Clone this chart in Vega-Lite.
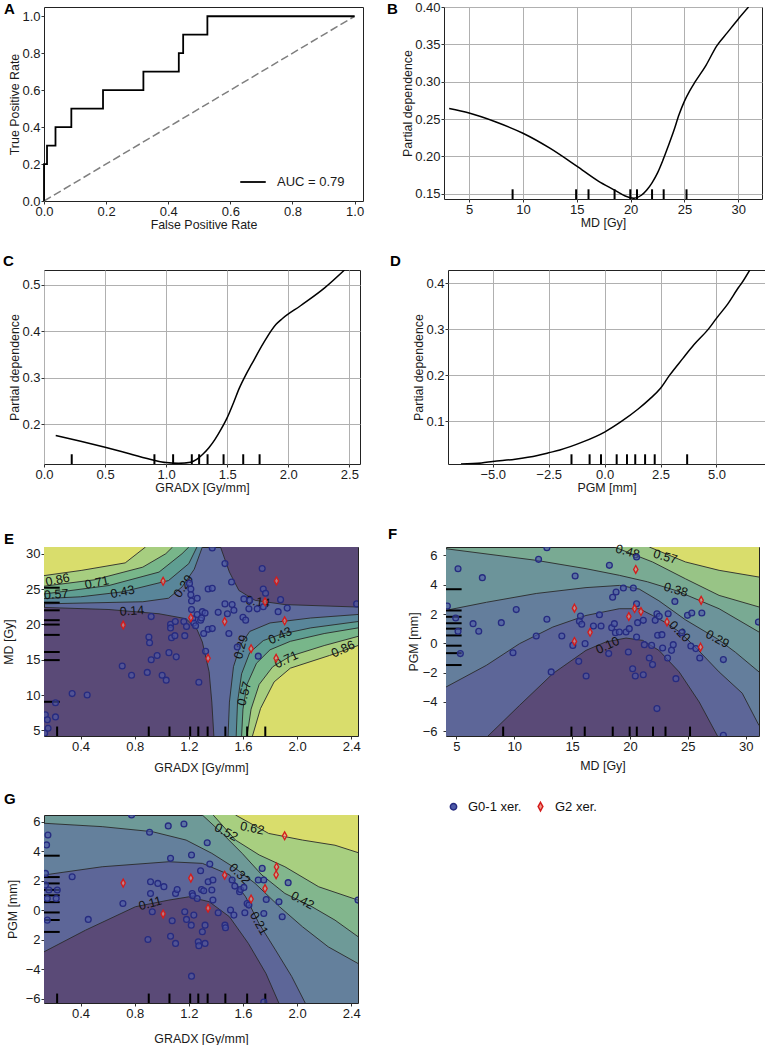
{
"$schema":"https://vega.github.io/schema/vega-lite/v6.json",
"padding":{"left":2,"top":0,"right":0,"bottom":0},
"background":"white",
"config":{
 "font":"Liberation Sans",
 "view":{"stroke":"#222222","strokeWidth":1},
 "axis":{"domain":false,"grid":false,"gridColor":"#b0b0b0","gridWidth":1,"tickColor":"#333333","tickSize":3,"labelFont":"Liberation Sans","labelFontSize":13,"labelColor":"#1a1a1a","labelPadding":1,"labelFlush":false,"labelOverlap":false,"titleFont":"Liberation Sans","titleFontSize":12.4,"titleFontWeight":"normal","titleColor":"#1a1a1a","titlePadding":0},
 "title":{"anchor":"start","frame":"group","fontSize":15,"fontWeight":"bold","font":"Liberation Sans","color":"#000000","baseline":"alphabetic","offset":1},
 "legend":{"labelFont":"Liberation Sans","titleFont":"Liberation Sans"}
},
"datasets":{
 "roc":[{"x":0,"y":0},{"x":0,"y":0.2},{"x":0.0097,"y":0.3},{"x":0.037,"y":0.4},{"x":0.088,"y":0.5},{"x":0.19,"y":0.6},{"x":0.32,"y":0.7},{"x":0.434,"y":0.8},{"x":0.448,"y":0.9},{"x":0.526,"y":1.0},{"x":1.0,"y":1.0}],
 "diag":[{"x":0,"y":0},{"x":1,"y":1}],
 "pdB":[{"x":3.15,"y":0.264},{"x":5,"y":0.258},{"x":7.5,"y":0.246},{"x":10,"y":0.231},{"x":12.5,"y":0.211},{"x":15,"y":0.187},{"x":17,"y":0.167},{"x":18.5,"y":0.155},{"x":19.5,"y":0.147},{"x":20.3,"y":0.144},{"x":21,"y":0.148},{"x":21.5,"y":0.155},{"x":22,"y":0.165},{"x":22.5,"y":0.178},{"x":23,"y":0.195},{"x":23.5,"y":0.214},{"x":24,"y":0.234},{"x":24.5,"y":0.256},{"x":25,"y":0.274},{"x":25.5,"y":0.288},{"x":26,"y":0.3},{"x":27,"y":0.322},{"x":28,"y":0.348},{"x":29,"y":0.366},{"x":30,"y":0.384},{"x":30.95,"y":0.4}],
 "pdC":[{"x":0.096,"y":0.1755},{"x":0.3,"y":0.163},{"x":0.5,"y":0.15},{"x":0.7,"y":0.136},{"x":0.9,"y":0.122},{"x":1.0,"y":0.117},{"x":1.1,"y":0.1155},{"x":1.2,"y":0.118},{"x":1.25,"y":0.124},{"x":1.3,"y":0.135},{"x":1.35,"y":0.149},{"x":1.4,"y":0.167},{"x":1.45,"y":0.189},{"x":1.5,"y":0.214},{"x":1.55,"y":0.245},{"x":1.6,"y":0.278},{"x":1.65,"y":0.305},{"x":1.7,"y":0.329},{"x":1.8,"y":0.376},{"x":1.9,"y":0.415},{"x":1.95,"y":0.427},{"x":2.1,"y":0.455},{"x":2.3,"y":0.494},{"x":2.46,"y":0.532}],
 "pdD":[{"x":-6.42,"y":0.0078},{"x":-5.5,"y":0.01},{"x":-5,"y":0.013},{"x":-4,"y":0.018},{"x":-3,"y":0.026},{"x":-2.5,"y":0.032},{"x":-2,"y":0.038},{"x":-1,"y":0.055},{"x":0,"y":0.077},{"x":0.75,"y":0.1},{"x":1.5,"y":0.127},{"x":2,"y":0.148},{"x":2.5,"y":0.172},{"x":2.9,"y":0.2},{"x":3.5,"y":0.237},{"x":4,"y":0.267},{"x":4.63,"y":0.3},{"x":5,"y":0.324},{"x":5.5,"y":0.355},{"x":6,"y":0.392},{"x":6.12,"y":0.4},{"x":6.49,"y":0.429}],
 "gxx":[{"x":0.227},{"x":0.904},{"x":1.057},{"x":1.21},{"x":1.27},{"x":1.339},{"x":1.47},{"x":1.631},{"x":1.765}],
 "mdx":[{"x":9.04},{"x":14.94},{"x":16.09},{"x":18.51},{"x":19.97},{"x":20.59},{"x":21.99},{"x":23.07},{"x":25.19}],
 "mdy":[{"y":9.04},{"y":14.94},{"y":16.09},{"y":18.51},{"y":19.97},{"y":20.59},{"y":21.99},{"y":23.07},{"y":25.19}],
 "pgmx":[{"x":-1.48},{"x":-0.67},{"x":-0.16},{"x":0.54},{"x":1.0},{"x":1.37},{"x":1.81},{"x":2.24},{"x":3.69}],
 "pgmy":[{"y":-1.48},{"y":-0.67},{"y":-0.16},{"y":0.54},{"y":1.0},{"y":1.37},{"y":1.81},{"y":2.24},{"y":3.69}],
 "cE":[
  {"id":"TL29","x":0.13,"y":22.9},{"id":"TL29","x":0.86,"y":23.2},{"id":"TL29","x":1.05,"y":23.7},{"id":"TL29","x":1.15,"y":25.3},{"id":"TL29","x":1.24,"y":27.8},{"id":"TL29","x":1.3,"y":30.95},
  {"id":"TL43","x":0.13,"y":23.65},{"id":"TL43","x":0.4,"y":23.9},{"id":"TL43","x":0.71,"y":24.6},{"id":"TL43","x":1.05,"y":26.2},{"id":"TL43","x":1.2,"y":28.6},{"id":"TL43","x":1.26,"y":30.95},
  {"id":"TL57","x":0.13,"y":24.3},{"id":"TL57","x":0.61,"y":25.5},{"id":"TL57","x":0.98,"y":27.4},{"id":"TL57","x":1.15,"y":30.0},{"id":"TL57","x":1.2,"y":30.95},
  {"id":"TL71","x":0.13,"y":25.4},{"id":"TL71","x":0.5,"y":26.3},{"id":"TL71","x":0.86,"y":28.1},{"id":"TL71","x":1.03,"y":30.0},{"id":"TL71","x":1.08,"y":30.95},
  {"id":"TL86","x":0.13,"y":26.9},{"id":"TL86","x":0.41,"y":27.65},{"id":"TL86","x":0.73,"y":28.7},{"id":"TL86","x":0.88,"y":30.95},
  {"id":"BL14","x":0.13,"y":22.4},{"id":"BL14","x":0.61,"y":22.1},{"id":"BL14","x":0.98,"y":21.5},{"id":"BL14","x":1.18,"y":20.8},{"id":"BL14","x":1.26,"y":19.3},{"id":"BL14","x":1.3,"y":17.5},{"id":"BL14","x":1.35,"y":13.3},{"id":"BL14","x":1.37,"y":9},{"id":"BL14","x":1.385,"y":4.2},
  {"id":"TR14","x":1.434,"y":30.95},{"id":"TR14","x":1.5,"y":27.4},{"id":"TR14","x":1.57,"y":24.8},{"id":"TR14","x":1.69,"y":23.4},{"id":"TR14","x":1.91,"y":22.8},{"id":"TR14","x":2.45,"y":22.45},
  {"id":"BR29","x":1.49,"y":4.2},{"id":"BR29","x":1.5,"y":9.0},{"id":"BR29","x":1.53,"y":14.0},{"id":"BR29","x":1.58,"y":17.0},{"id":"BR29","x":1.65,"y":19.0},{"id":"BR29","x":1.8,"y":20.2},{"id":"BR29","x":2.1,"y":20.9},{"id":"BR29","x":2.45,"y":21.4},
  {"id":"BR43","x":1.55,"y":4.2},{"id":"BR43","x":1.56,"y":9.0},{"id":"BR43","x":1.59,"y":13.0},{"id":"BR43","x":1.65,"y":16.0},{"id":"BR43","x":1.75,"y":17.7},{"id":"BR43","x":1.88,"y":18.6},{"id":"BR43","x":2.1,"y":19.5},{"id":"BR43","x":2.45,"y":20.4},
  {"id":"BR57","x":1.59,"y":4.2},{"id":"BR57","x":1.6,"y":8.0},{"id":"BR57","x":1.63,"y":11.5},{"id":"BR57","x":1.7,"y":14.5},{"id":"BR57","x":1.8,"y":16.4},{"id":"BR57","x":1.95,"y":17.6},{"id":"BR57","x":2.2,"y":18.7},{"id":"BR57","x":2.45,"y":19.5},
  {"id":"BR71","x":1.63,"y":4.2},{"id":"BR71","x":1.66,"y":8.0},{"id":"BR71","x":1.72,"y":11.5},{"id":"BR71","x":1.82,"y":14.0},{"id":"BR71","x":1.95,"y":15.5},{"id":"BR71","x":2.2,"y":17.0},{"id":"BR71","x":2.45,"y":18.3},
  {"id":"BR86","x":1.67,"y":4.2},{"id":"BR86","x":1.73,"y":8.1},{"id":"BR86","x":1.83,"y":11.85},{"id":"BR86","x":1.95,"y":13.8},{"id":"BR86","x":2.24,"y":15.6},{"id":"BR86","x":2.45,"y":17.0}
 ],
 "lE":[{"id":"TL86","t":"0.86","x":0.23,"y":26.3},{"id":"TL71","t":"0.71","x":0.52,"y":25.9},{"id":"TL57","t":"0.57","x":0.22,"y":24.25},{"id":"TL43","t":"0.43","x":0.71,"y":24.6},{"id":"BL14","t":"0.14","x":0.78,"y":21.9},{"id":"TL29","t":"0.29","x":1.16,"y":25.4},{"id":"TR14","t":"0.14","x":1.71,"y":23.2},{"id":"BR29","t":"0.29","x":1.585,"y":16.8},{"id":"BR43","t":"0.43","x":1.875,"y":18.4},{"id":"BR57","t":"0.57","x":1.61,"y":10.2},{"id":"BR71","t":"0.71","x":1.92,"y":15.0},{"id":"BR86","t":"0.86","x":2.34,"y":16.5}],
 "cF":[
  {"id":"F10","x":7.73,"y":-6.32},{"id":"F10","x":10.46,"y":-4.23},{"id":"F10","x":13.33,"y":-2.07},{"id":"F10","x":16.2,"y":-0.48},{"id":"F10","x":17.9,"y":0.09},{"id":"F10","x":19.66,"y":0.36},{"id":"F10","x":21.1,"y":0.2},{"id":"F10","x":22.5,"y":-0.48},{"id":"F10","x":24.25,"y":-1.95},{"id":"F10","x":25.98,"y":-4.0},{"id":"F10","x":27.56,"y":-6.32},
  {"id":"F20","x":4.1,"y":-2.98},{"id":"F20","x":7.59,"y":-1.5},{"id":"F20","x":10.46,"y":-0.02},{"id":"F20","x":13.33,"y":1.11},{"id":"F20","x":16.2,"y":1.9},{"id":"F20","x":19.08,"y":2.36},{"id":"F20","x":20.8,"y":2.36},{"id":"F20","x":21.95,"y":1.9},{"id":"F20","x":23.0,"y":1.45},{"id":"F20","x":24.3,"y":0.77},{"id":"F20","x":25.7,"y":-0.3},{"id":"F20","x":27.7,"y":-1.95},{"id":"F20","x":29.7,"y":-3.4},{"id":"F20","x":31.15,"y":-5.6},
  {"id":"F29","x":4.1,"y":2.25},{"id":"F29","x":7.6,"y":2.8},{"id":"F29","x":11.9,"y":3.4},{"id":"F29","x":16.2,"y":3.8},{"id":"F29","x":19.1,"y":3.95},{"id":"F29","x":20.8,"y":3.7},{"id":"F29","x":22.5,"y":2.9},{"id":"F29","x":24.8,"y":1.6},{"id":"F29","x":27.56,"y":0.3},{"id":"F29","x":29.1,"y":-0.6},{"id":"F29","x":31.15,"y":-1.95},
  {"id":"F38","x":4.1,"y":6.45},{"id":"F38","x":11.9,"y":5.66},{"id":"F38","x":16.2,"y":5.09},{"id":"F38","x":19.08,"y":4.64},{"id":"F38","x":21.5,"y":4.2},{"id":"F38","x":23.97,"y":3.6},{"id":"F38","x":27.7,"y":2.36},{"id":"F38","x":31.15,"y":0.77},
  {"id":"F48","x":18.65,"y":6.57},{"id":"F48","x":21.95,"y":5.55},{"id":"F48","x":24.8,"y":4.4},{"id":"F48","x":27.7,"y":3.27},{"id":"F48","x":31.15,"y":2.48},
  {"id":"F57","x":21.67,"y":6.57},{"id":"F57","x":24.8,"y":5.55},{"id":"F57","x":27.7,"y":4.98},{"id":"F57","x":31.15,"y":4.52}
 ],
 "lF":[{"id":"F48","t":"0.48","x":19.8,"y":6.25},{"id":"F57","t":"0.57","x":23.05,"y":5.9},{"id":"F38","t":"0.38","x":23.97,"y":3.65},{"id":"F20","t":"0.20","x":24.3,"y":0.8},{"id":"F29","t":"0.29","x":27.56,"y":0.3},{"id":"F10","t":"0.10","x":18.07,"y":-0.14}],
 "cG":[
  {"id":"G11","x":0.13,"y":-2.83},{"id":"G11","x":0.437,"y":-1.36},{"id":"G11","x":0.806,"y":0.23},{"id":"G11","x":1.053,"y":0.68},{"id":"G11","x":1.2,"y":0.9},{"id":"G11","x":1.35,"y":0.57},{"id":"G11","x":1.5,"y":-0.45},{"id":"G11","x":1.64,"y":-2.26},{"id":"G11","x":1.77,"y":-4.3},{"id":"G11","x":1.865,"y":-6.3},
  {"id":"G21","x":0.13,"y":2.38},{"id":"G21","x":0.56,"y":2.94},{"id":"G21","x":1.053,"y":3.28},{"id":"G21","x":1.3,"y":3.17},{"id":"G21","x":1.5,"y":2.4},{"id":"G21","x":1.62,"y":0.9},{"id":"G21","x":1.718,"y":-0.9},{"id":"G21","x":1.84,"y":-2.7},{"id":"G21","x":1.96,"y":-4.5},{"id":"G21","x":2.06,"y":-6.3},
  {"id":"G32","x":0.13,"y":5.89},{"id":"G32","x":0.56,"y":5.66},{"id":"G32","x":0.93,"y":5.32},{"id":"G32","x":1.18,"y":4.75},{"id":"G32","x":1.37,"y":3.85},{"id":"G32","x":1.545,"y":2.83},{"id":"G32","x":1.69,"y":1.81},{"id":"G32","x":1.87,"y":0.23},{"id":"G32","x":2.04,"y":-1.13},{"id":"G32","x":2.23,"y":-2.49},{"id":"G32","x":2.45,"y":-3.62},
  {"id":"G42","x":1.3,"y":6.45},{"id":"G42","x":1.447,"y":5.2},{"id":"G42","x":1.594,"y":3.85},{"id":"G42","x":1.74,"y":2.38},{"id":"G42","x":1.91,"y":1.13},{"id":"G42","x":2.11,"y":0.23},{"id":"G42","x":2.28,"y":-0.68},{"id":"G42","x":2.45,"y":-1.8},
  {"id":"G52","x":1.38,"y":6.45},{"id":"G52","x":1.545,"y":4.75},{"id":"G52","x":1.72,"y":3.74},{"id":"G52","x":1.91,"y":2.94},{"id":"G52","x":2.16,"y":1.58},{"id":"G52","x":2.45,"y":0.68},
  {"id":"G62","x":1.545,"y":6.45},{"id":"G62","x":1.79,"y":5.2},{"id":"G62","x":2.04,"y":4.75},{"id":"G62","x":2.28,"y":4.4},{"id":"G62","x":2.45,"y":3.9}
 ],
 "lG":[{"id":"G62","t":"0.62","x":1.668,"y":5.55},{"id":"G52","t":"0.52","x":1.476,"y":5.28},{"id":"G32","t":"0.32","x":1.575,"y":2.45},{"id":"G42","t":"0.42","x":2.04,"y":0.65},{"id":"G21","t":"0.21","x":1.718,"y":-0.9},{"id":"G11","t":"0.11","x":0.915,"y":0.45}],
 "pE":[
  {"x":0.14,"y":7.2,"g":"G0-1 xer."},{"x":0.155,"y":6.5,"g":"G0-1 xer."},{"x":0.16,"y":5.3,"g":"G0-1 xer."},{"x":0.135,"y":4.6,"g":"G0-1 xer."},{"x":0.215,"y":8.9,"g":"G0-1 xer."},{"x":0.215,"y":6.9,"g":"G0-1 xer."},{"x":0.338,"y":10.2,"g":"G0-1 xer."},{"x":0.449,"y":10.0,"g":"G0-1 xer."},{"x":0.708,"y":14.1,"g":"G0-1 xer."},{"x":0.777,"y":12.8,"g":"G0-1 xer."},{"x":0.893,"y":13.2,"g":"G0-1 xer."},{"x":0.905,"y":18.2,"g":"G0-1 xer."},{"x":0.91,"y":17.4,"g":"G0-1 xer."},{"x":0.922,"y":15.0,"g":"G0-1 xer."},{"x":0.922,"y":21.1,"g":"G0-1 xer."},{"x":0.966,"y":15.6,"g":"G0-1 xer."},{"x":1.003,"y":12.8,"g":"G0-1 xer."},{"x":1.033,"y":12.1,"g":"G0-1 xer."},{"x":1.053,"y":16.0,"g":"G0-1 xer."},{"x":1.065,"y":20.0,"g":"G0-1 xer."},{"x":1.065,"y":19.5,"g":"G0-1 xer."},{"x":1.072,"y":18.1,"g":"G0-1 xer."},{"x":1.097,"y":18.4,"g":"G0-1 xer."},{"x":1.1,"y":20.4,"g":"G0-1 xer."},{"x":1.107,"y":15.4,"g":"G0-1 xer."},{"x":1.17,"y":18.4,"g":"G0-1 xer."},{"x":1.163,"y":20.4,"g":"G0-1 xer."},{"x":1.183,"y":19.7,"g":"G0-1 xer."},{"x":1.205,"y":25.8,"g":"G0-1 xer."},{"x":1.215,"y":25.0,"g":"G0-1 xer."},{"x":1.215,"y":24.2,"g":"G0-1 xer."},{"x":1.22,"y":23.3,"g":"G0-1 xer."},{"x":1.22,"y":22.1,"g":"G0-1 xer."},{"x":1.23,"y":20.8,"g":"G0-1 xer."},{"x":1.237,"y":20.2,"g":"G0-1 xer."},{"x":1.25,"y":19.8,"g":"G0-1 xer."},{"x":1.262,"y":21.4,"g":"G0-1 xer."},{"x":1.262,"y":23.7,"g":"G0-1 xer."},{"x":1.274,"y":11.8,"g":"G0-1 xer."},{"x":1.287,"y":20.6,"g":"G0-1 xer."},{"x":1.294,"y":20.9,"g":"G0-1 xer."},{"x":1.3,"y":21.8,"g":"G0-1 xer."},{"x":1.31,"y":18.7,"g":"G0-1 xer."},{"x":1.32,"y":21.6,"g":"G0-1 xer."},{"x":1.324,"y":16.2,"g":"G0-1 xer."},{"x":1.343,"y":25.0,"g":"G0-1 xer."},{"x":1.343,"y":19.3,"g":"G0-1 xer."},{"x":1.373,"y":25.1,"g":"G0-1 xer."},{"x":1.373,"y":19.4,"g":"G0-1 xer."},{"x":1.373,"y":30.8,"g":"G0-1 xer."},{"x":1.417,"y":21.7,"g":"G0-1 xer."},{"x":1.467,"y":28.6,"g":"G0-1 xer."},{"x":1.467,"y":22.9,"g":"G0-1 xer."},{"x":1.485,"y":21.5,"g":"G0-1 xer."},{"x":1.496,"y":18.7,"g":"G0-1 xer."},{"x":1.516,"y":26.0,"g":"G0-1 xer."},{"x":1.52,"y":22.8,"g":"G0-1 xer."},{"x":1.533,"y":22.0,"g":"G0-1 xer."},{"x":1.558,"y":16.8,"g":"G0-1 xer."},{"x":1.6,"y":21.0,"g":"G0-1 xer."},{"x":1.607,"y":23.6,"g":"G0-1 xer."},{"x":1.62,"y":20.6,"g":"G0-1 xer."},{"x":1.644,"y":22.2,"g":"G0-1 xer."},{"x":1.65,"y":23.4,"g":"G0-1 xer."},{"x":1.705,"y":22.2,"g":"G0-1 xer."},{"x":1.713,"y":15.5,"g":"G0-1 xer."},{"x":1.742,"y":27.9,"g":"G0-1 xer."},{"x":1.75,"y":25.0,"g":"G0-1 xer."},{"x":1.767,"y":24.4,"g":"G0-1 xer."},{"x":1.75,"y":22.5,"g":"G0-1 xer."},{"x":1.86,"y":21.8,"g":"G0-1 xer."},{"x":1.878,"y":23.5,"g":"G0-1 xer."},{"x":1.927,"y":22.3,"g":"G0-1 xer."},{"x":2.44,"y":22.9,"g":"G0-1 xer."},
  {"x":1.01,"y":26.1,"g":"G2 xer."},{"x":0.715,"y":19.9,"g":"G2 xer."},{"x":1.215,"y":20.95,"g":"G2 xer."},{"x":1.465,"y":20.4,"g":"G2 xer."},{"x":1.342,"y":15.2,"g":"G2 xer."},{"x":1.66,"y":16.55,"g":"G2 xer."},{"x":1.763,"y":23.2,"g":"G2 xer."},{"x":1.848,"y":26.15,"g":"G2 xer."},{"x":1.908,"y":20.5,"g":"G2 xer."},{"x":1.845,"y":15.2,"g":"G2 xer."}
 ],
 "pF":[
  {"x":4.22,"y":2.55,"g":"G0-1 xer."},{"x":5.14,"y":5.09,"g":"G0-1 xer."},{"x":4.94,"y":1.73,"g":"G0-1 xer."},{"x":5.14,"y":0.82,"g":"G0-1 xer."},{"x":5.34,"y":-0.7,"g":"G0-1 xer."},{"x":6.44,"y":1.34,"g":"G0-1 xer."},{"x":6.93,"y":0.82,"g":"G0-1 xer."},{"x":7.24,"y":4.48,"g":"G0-1 xer."},{"x":8.88,"y":1.41,"g":"G0-1 xer."},{"x":9.89,"y":-0.64,"g":"G0-1 xer."},{"x":10.17,"y":2.3,"g":"G0-1 xer."},{"x":11.9,"y":0.5,"g":"G0-1 xer."},{"x":12.1,"y":5.73,"g":"G0-1 xer."},{"x":12.82,"y":1.64,"g":"G0-1 xer."},{"x":12.82,"y":6.52,"g":"G0-1 xer."},{"x":13.19,"y":-1.95,"g":"G0-1 xer."},{"x":14.11,"y":0.5,"g":"G0-1 xer."},{"x":15.06,"y":-0.14,"g":"G0-1 xer."},{"x":15.26,"y":4.59,"g":"G0-1 xer."},{"x":15.57,"y":-1.23,"g":"G0-1 xer."},{"x":15.63,"y":1.5,"g":"G0-1 xer."},{"x":15.72,"y":1.86,"g":"G0-1 xer."},{"x":15.83,"y":1.3,"g":"G0-1 xer."},{"x":16.21,"y":-2.23,"g":"G0-1 xer."},{"x":16.12,"y":-0.02,"g":"G0-1 xer."},{"x":16.84,"y":1.18,"g":"G0-1 xer."},{"x":17.36,"y":1.95,"g":"G0-1 xer."},{"x":17.5,"y":1.18,"g":"G0-1 xer."},{"x":18.16,"y":-0.7,"g":"G0-1 xer."},{"x":18.22,"y":5.32,"g":"G0-1 xer."},{"x":18.42,"y":1.07,"g":"G0-1 xer."},{"x":18.65,"y":1.34,"g":"G0-1 xer."},{"x":18.5,"y":3.14,"g":"G0-1 xer."},{"x":18.8,"y":3.5,"g":"G0-1 xer."},{"x":18.74,"y":0.73,"g":"G0-1 xer."},{"x":19.08,"y":0.77,"g":"G0-1 xer."},{"x":19.43,"y":3.77,"g":"G0-1 xer."},{"x":19.66,"y":0.77,"g":"G0-1 xer."},{"x":19.86,"y":-0.59,"g":"G0-1 xer."},{"x":19.94,"y":1.0,"g":"G0-1 xer."},{"x":20.23,"y":-1.73,"g":"G0-1 xer."},{"x":20.29,"y":3.77,"g":"G0-1 xer."},{"x":20.46,"y":-2.23,"g":"G0-1 xer."},{"x":20.57,"y":2.7,"g":"G0-1 xer."},{"x":20.57,"y":5.89,"g":"G0-1 xer."},{"x":20.66,"y":1.41,"g":"G0-1 xer."},{"x":20.57,"y":0.43,"g":"G0-1 xer."},{"x":21.15,"y":1.57,"g":"G0-1 xer."},{"x":21.24,"y":-0.09,"g":"G0-1 xer."},{"x":21.15,"y":-2.14,"g":"G0-1 xer."},{"x":21.67,"y":-1.0,"g":"G0-1 xer."},{"x":21.87,"y":-0.14,"g":"G0-1 xer."},{"x":21.95,"y":-1.45,"g":"G0-1 xer."},{"x":22.18,"y":1.57,"g":"G0-1 xer."},{"x":22.33,"y":2.02,"g":"G0-1 xer."},{"x":22.33,"y":-4.45,"g":"G0-1 xer."},{"x":22.39,"y":0.55,"g":"G0-1 xer."},{"x":22.53,"y":1.84,"g":"G0-1 xer."},{"x":22.76,"y":0.59,"g":"G0-1 xer."},{"x":22.82,"y":-0.32,"g":"G0-1 xer."},{"x":23.25,"y":-1.0,"g":"G0-1 xer."},{"x":23.3,"y":2.02,"g":"G0-1 xer."},{"x":23.59,"y":-0.48,"g":"G0-1 xer."},{"x":23.74,"y":-0.09,"g":"G0-1 xer."},{"x":23.88,"y":2.86,"g":"G0-1 xer."},{"x":23.97,"y":-2.41,"g":"G0-1 xer."},{"x":24.48,"y":0.73,"g":"G0-1 xer."},{"x":24.97,"y":1.91,"g":"G0-1 xer."},{"x":25.26,"y":-0.18,"g":"G0-1 xer."},{"x":25.34,"y":2.07,"g":"G0-1 xer."},{"x":25.69,"y":-0.36,"g":"G0-1 xer."},{"x":26.03,"y":-1.0,"g":"G0-1 xer."},{"x":26.21,"y":2.07,"g":"G0-1 xer."},{"x":28.07,"y":-1.11,"g":"G0-1 xer."},{"x":28.07,"y":-6.27,"g":"G0-1 xer."},{"x":31.1,"y":1.45,"g":"G0-1 xer."},
  {"x":26.1,"y":-0.26,"g":"G2 xer."},{"x":19.9,"y":1.83,"g":"G2 xer."},{"x":20.95,"y":2.17,"g":"G2 xer."},{"x":20.4,"y":2.37,"g":"G2 xer."},{"x":15.2,"y":0.13,"g":"G2 xer."},{"x":16.55,"y":0.75,"g":"G2 xer."},{"x":23.2,"y":1.46,"g":"G2 xer."},{"x":26.15,"y":2.93,"g":"G2 xer."},{"x":20.5,"y":5.04,"g":"G2 xer."},{"x":15.2,"y":2.4,"g":"G2 xer."}
 ],
 "pG":[
  {"x":0.141,"y":2.49,"g":"G0-1 xer."},{"x":0.141,"y":1.7,"g":"G0-1 xer."},{"x":0.154,"y":0.79,"g":"G0-1 xer."},{"x":0.166,"y":1.36,"g":"G0-1 xer."},{"x":0.159,"y":5.09,"g":"G0-1 xer."},{"x":0.149,"y":4.42,"g":"G0-1 xer."},{"x":0.154,"y":-0.68,"g":"G0-1 xer."},{"x":0.228,"y":1.36,"g":"G0-1 xer."},{"x":0.22,"y":0.79,"g":"G0-1 xer."},{"x":0.338,"y":2.26,"g":"G0-1 xer."},{"x":0.457,"y":-0.63,"g":"G0-1 xer."},{"x":0.713,"y":0.45,"g":"G0-1 xer."},{"x":0.777,"y":6.45,"g":"G0-1 xer."},{"x":0.898,"y":-1.99,"g":"G0-1 xer."},{"x":0.91,"y":5.28,"g":"G0-1 xer."},{"x":0.917,"y":1.92,"g":"G0-1 xer."},{"x":0.917,"y":1.13,"g":"G0-1 xer."},{"x":0.93,"y":-0.11,"g":"G0-1 xer."},{"x":0.971,"y":1.81,"g":"G0-1 xer."},{"x":1.016,"y":1.59,"g":"G0-1 xer."},{"x":1.048,"y":5.71,"g":"G0-1 xer."},{"x":1.065,"y":3.51,"g":"G0-1 xer."},{"x":1.065,"y":-1.77,"g":"G0-1 xer."},{"x":1.077,"y":-0.72,"g":"G0-1 xer."},{"x":1.102,"y":1.13,"g":"G0-1 xer."},{"x":1.114,"y":1.4,"g":"G0-1 xer."},{"x":1.102,"y":-2.26,"g":"G0-1 xer."},{"x":1.164,"y":5.84,"g":"G0-1 xer."},{"x":1.17,"y":-0.11,"g":"G0-1 xer."},{"x":1.183,"y":-0.63,"g":"G0-1 xer."},{"x":1.218,"y":-1.02,"g":"G0-1 xer."},{"x":1.22,"y":-4.48,"g":"G0-1 xer."},{"x":1.22,"y":3.74,"g":"G0-1 xer."},{"x":1.225,"y":1.13,"g":"G0-1 xer."},{"x":1.23,"y":0.97,"g":"G0-1 xer."},{"x":1.237,"y":-0.34,"g":"G0-1 xer."},{"x":1.262,"y":0.79,"g":"G0-1 xer."},{"x":1.27,"y":-2.15,"g":"G0-1 xer."},{"x":1.274,"y":-2.42,"g":"G0-1 xer."},{"x":1.287,"y":2.67,"g":"G0-1 xer."},{"x":1.294,"y":1.4,"g":"G0-1 xer."},{"x":1.3,"y":-1.47,"g":"G0-1 xer."},{"x":1.31,"y":1.31,"g":"G0-1 xer."},{"x":1.32,"y":-1.02,"g":"G0-1 xer."},{"x":1.32,"y":-2.26,"g":"G0-1 xer."},{"x":1.336,"y":4.57,"g":"G0-1 xer."},{"x":1.343,"y":1.92,"g":"G0-1 xer."},{"x":1.355,"y":3.12,"g":"G0-1 xer."},{"x":1.37,"y":1.36,"g":"G0-1 xer."},{"x":1.378,"y":2.04,"g":"G0-1 xer."},{"x":1.378,"y":0.68,"g":"G0-1 xer."},{"x":1.417,"y":-0.18,"g":"G0-1 xer."},{"x":1.467,"y":-1.02,"g":"G0-1 xer."},{"x":1.471,"y":-1.2,"g":"G0-1 xer."},{"x":1.508,"y":0.0,"g":"G0-1 xer."},{"x":1.52,"y":2.04,"g":"G0-1 xer."},{"x":1.533,"y":-0.34,"g":"G0-1 xer."},{"x":1.54,"y":1.63,"g":"G0-1 xer."},{"x":1.575,"y":1.25,"g":"G0-1 xer."},{"x":1.582,"y":1.4,"g":"G0-1 xer."},{"x":1.607,"y":1.54,"g":"G0-1 xer."},{"x":1.614,"y":-0.18,"g":"G0-1 xer."},{"x":1.631,"y":0.45,"g":"G0-1 xer."},{"x":1.644,"y":0.34,"g":"G0-1 xer."},{"x":1.713,"y":2.04,"g":"G0-1 xer."},{"x":1.742,"y":2.83,"g":"G0-1 xer."},{"x":1.754,"y":2.04,"g":"G0-1 xer."},{"x":1.754,"y":-0.23,"g":"G0-1 xer."},{"x":1.772,"y":0.72,"g":"G0-1 xer."},{"x":1.754,"y":-6.23,"g":"G0-1 xer."},{"x":1.866,"y":0.57,"g":"G0-1 xer."},{"x":1.89,"y":-0.45,"g":"G0-1 xer."},{"x":1.934,"y":1.86,"g":"G0-1 xer."},{"x":2.45,"y":0.68,"g":"G0-1 xer."},
  {"x":1.01,"y":-0.26,"g":"G2 xer."},{"x":0.715,"y":1.83,"g":"G2 xer."},{"x":1.215,"y":2.17,"g":"G2 xer."},{"x":1.465,"y":2.37,"g":"G2 xer."},{"x":1.342,"y":0.13,"g":"G2 xer."},{"x":1.66,"y":0.75,"g":"G2 xer."},{"x":1.763,"y":1.46,"g":"G2 xer."},{"x":1.848,"y":2.93,"g":"G2 xer."},{"x":1.908,"y":5.04,"g":"G2 xer."},{"x":1.845,"y":2.4,"g":"G2 xer."}
 ]
},
"resolve":{"scale":{"color":"independent","fill":"independent","stroke":"independent","shape":"independent"}},
"spacing":32,
"vconcat":[
 {"spacing":22,
  "resolve":{"scale":{"color":"independent","fill":"independent","stroke":"independent","shape":"independent"}},
  "vconcat":[
   {"spacing":21,
    "resolve":{"scale":{"color":"independent","fill":"independent","stroke":"independent","shape":"independent"}},
    "hconcat":[
     {"title":{"text":"A","dx":-40,"offset":-10},
      "width":319,"height":194,
      "layer":[
       {"data":{"name":"diag"},"mark":{"type":"line","color":"#7f7f7f","strokeWidth":1.5,"strokeDash":[8,3.5]},
        "encoding":{
         "x":{"field":"x","type":"quantitative","scale":{"domain":[0,1.027],"nice":false,"zero":false},"axis":{"title":"False Positive Rate","values":[0,0.2,0.4,0.6,0.8,1.0],"format":".1f","labelOverlap":false,"tickCount":20}},
         "y":{"field":"y","type":"quantitative","scale":{"domain":[0,1.05],"nice":false,"zero":false},"axis":{"title":"True Positive Rate","values":[0,0.2,0.4,0.6,0.8,1.0],"format":".1f","labelOverlap":false,"tickCount":20}}}},
       {"data":{"name":"roc"},"mark":{"type":"line","strokeWidth":1.8,"interpolate":"step-after"},
        "encoding":{
         "x":{"field":"x","type":"quantitative","scale":{"domain":[0,1.027],"nice":false,"zero":false}},
         "y":{"field":"y","type":"quantitative","scale":{"domain":[0,1.05],"nice":false,"zero":false}},
         "color":{"datum":"AUC = 0.79","scale":{"range":["#000000"]},"legend":{"orient":"none","legendX":195,"legendY":161,"title":null,"symbolType":"stroke","symbolSize":650,"symbolStrokeWidth":1.8,"labelFontSize":13,"labelColor":"#1a1a1a","labelOffset":10,"padding":0}}}}
      ]},
     {"title":{"text":"B","dx":-57,"offset":-16},
      "width":318,"height":192,
      "layer":[
       {"data":{"name":"pdB"},"mark":{"type":"line","color":"#000000","strokeWidth":1.5,"clip":true,"interpolate":"monotone"},
        "encoding":{
         "x":{"field":"x","type":"quantitative","scale":{"domain":[2.67,32.2],"nice":false,"zero":false},"axis":{"title":"MD [Gy]","values":[5,10,15,20,25,30],"format":"d","grid":true,"labelOverlap":false,"tickCount":20}},
         "y":{"field":"y","type":"quantitative","scale":{"domain":[0.143,0.4],"nice":false,"zero":false},"axis":{"title":"Partial dependence","values":[0.15,0.2,0.25,0.3,0.35,0.4],"format":".2f","grid":true,"labelOverlap":false,"tickCount":20}}}},
       {"data":{"name":"mdx"},"mark":{"type":"rule","color":"#000000","strokeWidth":2},
        "encoding":{
         "x":{"field":"x","type":"quantitative","scale":{"domain":[2.67,32.2],"nice":false,"zero":false}},
         "y":{"datum":0.143},"y2":{"datum":0.156}}}
      ]}
    ]},
   {"spacing":28,
    "resolve":{"scale":{"color":"independent","fill":"independent","stroke":"independent","shape":"independent"}},
    "hconcat":[
     {"title":{"text":"C","dx":-41},
      "width":316,"height":194,
      "layer":[
       {"data":{"name":"pdC"},"mark":{"type":"line","color":"#000000","strokeWidth":1.5,"clip":true,"interpolate":"monotone"},
        "encoding":{
         "x":{"field":"x","type":"quantitative","scale":{"domain":[0,2.587],"nice":false,"zero":false},"axis":{"title":"GRADX [Gy/mm]","values":[0,0.5,1,1.5,2,2.5],"format":".1f","grid":true,"labelOverlap":false,"tickCount":20}},
         "y":{"field":"y","type":"quantitative","scale":{"domain":[0.114,0.532],"nice":false,"zero":false},"axis":{"title":"Partial dependence","values":[0.2,0.3,0.4,0.5],"format":".1f","grid":true,"labelOverlap":false,"tickCount":20}}}},
       {"data":{"name":"gxx"},"mark":{"type":"rule","color":"#000000","strokeWidth":2},
        "encoding":{
         "x":{"field":"x","type":"quantitative","scale":{"domain":[0,2.587],"nice":false,"zero":false}},
         "y":{"datum":0.114},"y2":{"datum":0.135}}}
      ]},
     {"title":{"text":"D","dx":-58},
      "width":317,"height":194,
      "layer":[
       {"data":{"name":"pdD"},"mark":{"type":"line","color":"#000000","strokeWidth":1.5,"clip":true,"interpolate":"monotone"},
        "encoding":{
         "x":{"field":"x","type":"quantitative","scale":{"domain":[-7.0,7.17],"nice":false,"zero":false},"axis":{"title":"PGM [mm]","values":[-5,-2.5,0,2.5,5],"format":".1f","grid":true,"labelOverlap":false,"tickCount":20}},
         "y":{"field":"y","type":"quantitative","scale":{"domain":[0.0076,0.429],"nice":false,"zero":false},"axis":{"title":"Partial dependence","values":[0.1,0.2,0.3,0.4],"format":".1f","grid":true,"labelOverlap":false,"tickCount":20}}}},
       {"data":{"name":"pgmx"},"mark":{"type":"rule","color":"#000000","strokeWidth":2},
        "encoding":{
         "x":{"field":"x","type":"quantitative","scale":{"domain":[-7.0,7.17],"nice":false,"zero":false}},
         "y":{"datum":0.0076},"y2":{"datum":0.0287}}}
      ]}
    ]}
  ]},
 {"spacing":17,
  "resolve":{"scale":{"color":"independent","fill":"independent","stroke":"independent","shape":"independent"}},
  "vconcat":[
   {"spacing":26,
    "resolve":{"scale":{"color":"independent","fill":"independent","stroke":"independent","shape":"independent"}},
    "hconcat":[
     {"title":{"text":"E","dx":-40,"offset":0.5},
      "width":314,"height":189,
      "view":{"fill":"#5e6a9b","stroke":"#222222"},
      "layer":[
       {"data":{"name":"cE"},"transform":[{"filter":"datum.id=='TL29'"}],"mark":{"type":"area","color":"#59869a"},
        "encoding":{
         "x":{"field":"x","type":"quantitative","scale":{"domain":[0.13,2.45],"nice":false,"zero":false},"axis":{"title":"GRADX [Gy/mm]","values":[0.4,0.8,1.2,1.6,2.0,2.4],"format":".1f","titlePadding":8,"labelOverlap":false,"tickCount":20}},
         "y":{"field":"y","type":"quantitative","scale":{"domain":[4.2,30.95],"nice":false,"zero":false},"axis":{"title":"MD [Gy]","values":[5,10,15,20,25,30],"format":"d","titlePadding":10,"labelOverlap":false,"tickCount":20}},
         "y2":{"datum":30.95}}},
       {"data":{"name":"cE"},"transform":[{"filter":"datum.id=='TL43'"}],"mark":{"type":"area","color":"#5f9e92"},"encoding":{"x":{"field":"x","type":"quantitative"},"y":{"field":"y","type":"quantitative"},"y2":{"datum":30.95}}},
       {"data":{"name":"cE"},"transform":[{"filter":"datum.id=='TL57'"}],"mark":{"type":"area","color":"#78b68a"},"encoding":{"x":{"field":"x","type":"quantitative"},"y":{"field":"y","type":"quantitative"},"y2":{"datum":30.95}}},
       {"data":{"name":"cE"},"transform":[{"filter":"datum.id=='TL71'"}],"mark":{"type":"area","color":"#a7ce80"},"encoding":{"x":{"field":"x","type":"quantitative"},"y":{"field":"y","type":"quantitative"},"y2":{"datum":30.95}}},
       {"data":{"name":"cE"},"transform":[{"filter":"datum.id=='TL86'"}],"mark":{"type":"area","color":"#d9dd6c"},"encoding":{"x":{"field":"x","type":"quantitative"},"y":{"field":"y","type":"quantitative"},"y2":{"datum":30.95}}},
       {"data":{"name":"cE"},"transform":[{"filter":"datum.id=='TR14'"}],"mark":{"type":"area","color":"#5a4a77"},"encoding":{"x":{"field":"x","type":"quantitative"},"y":{"field":"y","type":"quantitative"},"y2":{"datum":30.95}}},
       {"data":{"name":"cE"},"transform":[{"filter":"datum.id=='BL14'"}],"mark":{"type":"area","color":"#5a4a77"},"encoding":{"x":{"field":"x","type":"quantitative"},"y":{"field":"y","type":"quantitative"},"y2":{"datum":4.2}}},
       {"data":{"name":"cE"},"transform":[{"filter":"datum.id=='BR29'"}],"mark":{"type":"area","color":"#59869a"},"encoding":{"x":{"field":"x","type":"quantitative"},"y":{"field":"y","type":"quantitative"},"y2":{"datum":4.2}}},
       {"data":{"name":"cE"},"transform":[{"filter":"datum.id=='BR43'"}],"mark":{"type":"area","color":"#5f9e92"},"encoding":{"x":{"field":"x","type":"quantitative"},"y":{"field":"y","type":"quantitative"},"y2":{"datum":4.2}}},
       {"data":{"name":"cE"},"transform":[{"filter":"datum.id=='BR57'"}],"mark":{"type":"area","color":"#78b68a"},"encoding":{"x":{"field":"x","type":"quantitative"},"y":{"field":"y","type":"quantitative"},"y2":{"datum":4.2}}},
       {"data":{"name":"cE"},"transform":[{"filter":"datum.id=='BR71'"}],"mark":{"type":"area","color":"#a7ce80"},"encoding":{"x":{"field":"x","type":"quantitative"},"y":{"field":"y","type":"quantitative"},"y2":{"datum":4.2}}},
       {"data":{"name":"cE"},"transform":[{"filter":"datum.id=='BR86'"}],"mark":{"type":"area","color":"#d9dd6c"},"encoding":{"x":{"field":"x","type":"quantitative"},"y":{"field":"y","type":"quantitative"},"y2":{"datum":4.2}}},
       {"data":{"name":"cE"},"mark":{"type":"line","color":"#2a2a2a","strokeWidth":0.9,"clip":true},"encoding":{"x":{"field":"x","type":"quantitative"},"y":{"field":"y","type":"quantitative"},"detail":{"field":"id"}}},
       {"data":{"name":"lE"},"transform":[{"filter":{"field":"id","oneOf":["TL86","TL71","TL43"]}}],"mark":{"type":"text","angle":348,"fontSize":12.5,"color":"#111111"},"encoding":{"x":{"field":"x","type":"quantitative"},"y":{"field":"y","type":"quantitative"},"text":{"field":"t"}}},
       {"data":{"name":"lE"},"transform":[{"filter":{"field":"id","oneOf":["TL57","BL14"]}}],"mark":{"type":"text","angle":356,"fontSize":12.5,"color":"#111111"},"encoding":{"x":{"field":"x","type":"quantitative"},"y":{"field":"y","type":"quantitative"},"text":{"field":"t"}}},
       {"data":{"name":"lE"},"transform":[{"filter":{"field":"id","oneOf":["TL29"]}}],"mark":{"type":"text","angle":305,"fontSize":12.5,"color":"#111111"},"encoding":{"x":{"field":"x","type":"quantitative"},"y":{"field":"y","type":"quantitative"},"text":{"field":"t"}}},
       {"data":{"name":"lE"},"transform":[{"filter":{"field":"id","oneOf":["TR14"]}}],"mark":{"type":"text","angle":8,"fontSize":12.5,"color":"#111111"},"encoding":{"x":{"field":"x","type":"quantitative"},"y":{"field":"y","type":"quantitative"},"text":{"field":"t"}}},
       {"data":{"name":"lE"},"transform":[{"filter":{"field":"id","oneOf":["BR29","BR57"]}}],"mark":{"type":"text","angle":285,"fontSize":12.5,"color":"#111111"},"encoding":{"x":{"field":"x","type":"quantitative"},"y":{"field":"y","type":"quantitative"},"text":{"field":"t"}}},
       {"data":{"name":"lE"},"transform":[{"filter":{"field":"id","oneOf":["BR43","BR71","BR86"]}}],"mark":{"type":"text","angle":335,"fontSize":12.5,"color":"#111111"},"encoding":{"x":{"field":"x","type":"quantitative"},"y":{"field":"y","type":"quantitative"},"text":{"field":"t"}}},
       {"data":{"name":"gxx"},"mark":{"type":"rule","color":"#000000","strokeWidth":2},"encoding":{"x":{"field":"x","type":"quantitative"},"y":{"datum":4.2},"y2":{"datum":5.54}}},
       {"data":{"name":"mdy"},"mark":{"type":"rule","color":"#000000","strokeWidth":2},"encoding":{"y":{"field":"y","type":"quantitative"},"x":{"datum":0.13},"x2":{"datum":0.246}}},
       {"data":{"name":"pE"},"mark":{"type":"point","size":34,"strokeWidth":1.3,"fillOpacity":0.6,"clip":true},
        "encoding":{
         "x":{"field":"x","type":"quantitative"},"y":{"field":"y","type":"quantitative"},
         "fill":{"field":"g","type":"nominal","scale":{"domain":["G0-1 xer.","G2 xer."],"range":["#4d5aa8","#f2998a"]},"legend":null},
         "stroke":{"field":"g","type":"nominal","scale":{"domain":["G0-1 xer.","G2 xer."],"range":["#262b80","#d41c1c"]},"legend":null},
         "shape":{"field":"g","type":"nominal","scale":{"domain":["G0-1 xer.","G2 xer."],"range":["circle","M0,-1.35L0.75,0L0,1.35L-0.75,0Z"]},"legend":null}}}
      ]},
     {"title":{"text":"F","dx":-58,"offset":0.5},
      "width":313,"height":189,
      "view":{"fill":"#79aa93","stroke":"#222222"},
      "layer":[
       {"data":{"name":"cF"},"transform":[{"filter":"datum.id=='F48'"}],"mark":{"type":"area","color":"#98c486"},
        "encoding":{
         "x":{"field":"x","type":"quantitative","scale":{"domain":[4.1,31.15],"nice":false,"zero":false},"axis":{"title":"MD [Gy]","values":[5,10,15,20,25,30],"format":"d","titlePadding":6,"labelOverlap":false,"tickCount":20}},
         "y":{"field":"y","type":"quantitative","scale":{"domain":[-6.32,6.57],"nice":false,"zero":false},"axis":{"title":"PGM [mm]","values":[-6,-4,-2,0,2,4,6],"format":"d","labelPadding":6,"titlePadding":2,"labelOverlap":false,"tickCount":20}},
         "y2":{"datum":6.57}}},
       {"data":{"name":"cF"},"transform":[{"filter":"datum.id=='F57'"}],"mark":{"type":"area","color":"#d9dd6c"},"encoding":{"x":{"field":"x","type":"quantitative"},"y":{"field":"y","type":"quantitative"},"y2":{"datum":6.57}}},
       {"data":{"name":"cF"},"transform":[{"filter":"datum.id=='F38'"}],"mark":{"type":"area","color":"#6c949a"},"encoding":{"x":{"field":"x","type":"quantitative"},"y":{"field":"y","type":"quantitative"},"y2":{"datum":-6.32}}},
       {"data":{"name":"cF"},"transform":[{"filter":"datum.id=='F29'"}],"mark":{"type":"area","color":"#647e9c"},"encoding":{"x":{"field":"x","type":"quantitative"},"y":{"field":"y","type":"quantitative"},"y2":{"datum":-6.32}}},
       {"data":{"name":"cF"},"transform":[{"filter":"datum.id=='F20'"}],"mark":{"type":"area","color":"#5d6698"},"encoding":{"x":{"field":"x","type":"quantitative"},"y":{"field":"y","type":"quantitative"},"y2":{"datum":-6.32}}},
       {"data":{"name":"cF"},"transform":[{"filter":"datum.id=='F10'"}],"mark":{"type":"area","color":"#5a4a77"},"encoding":{"x":{"field":"x","type":"quantitative"},"y":{"field":"y","type":"quantitative"},"y2":{"datum":-6.32}}},
       {"data":{"name":"cF"},"mark":{"type":"line","color":"#2a2a2a","strokeWidth":0.9,"clip":true},"encoding":{"x":{"field":"x","type":"quantitative"},"y":{"field":"y","type":"quantitative"},"detail":{"field":"id"}}},
       {"data":{"name":"lF"},"transform":[{"filter":{"field":"id","oneOf":["F48","F57","F38"]}}],"mark":{"type":"text","angle":16,"fontSize":12.5,"color":"#111111"},"encoding":{"x":{"field":"x","type":"quantitative"},"y":{"field":"y","type":"quantitative"},"text":{"field":"t"}}},
       {"data":{"name":"lF"},"transform":[{"filter":{"field":"id","oneOf":["F20"]}}],"mark":{"type":"text","angle":45,"fontSize":12.5,"color":"#111111"},"encoding":{"x":{"field":"x","type":"quantitative"},"y":{"field":"y","type":"quantitative"},"text":{"field":"t"}}},
       {"data":{"name":"lF"},"transform":[{"filter":{"field":"id","oneOf":["F29"]}}],"mark":{"type":"text","angle":28,"fontSize":12.5,"color":"#111111"},"encoding":{"x":{"field":"x","type":"quantitative"},"y":{"field":"y","type":"quantitative"},"text":{"field":"t"}}},
       {"data":{"name":"lF"},"transform":[{"filter":{"field":"id","oneOf":["F10"]}}],"mark":{"type":"text","angle":335,"fontSize":12.5,"color":"#111111"},"encoding":{"x":{"field":"x","type":"quantitative"},"y":{"field":"y","type":"quantitative"},"text":{"field":"t"}}},
       {"data":{"name":"mdx"},"mark":{"type":"rule","color":"#000000","strokeWidth":2},"encoding":{"x":{"field":"x","type":"quantitative"},"y":{"datum":-6.32},"y2":{"datum":-5.68}}},
       {"data":{"name":"pgmy"},"mark":{"type":"rule","color":"#000000","strokeWidth":2},"encoding":{"y":{"field":"y","type":"quantitative"},"x":{"datum":4.1},"x2":{"datum":5.45}}},
       {"data":{"name":"pF"},"mark":{"type":"point","size":34,"strokeWidth":1.3,"fillOpacity":0.6,"clip":true},
        "encoding":{
         "x":{"field":"x","type":"quantitative"},"y":{"field":"y","type":"quantitative"},
         "fill":{"field":"g","type":"nominal","scale":{"domain":["G0-1 xer.","G2 xer."],"range":["#4d5aa8","#f2998a"]},"legend":null},
         "stroke":{"field":"g","type":"nominal","scale":{"domain":["G0-1 xer.","G2 xer."],"range":["#262b80","#d41c1c"]},"legend":null},
         "shape":{"field":"g","type":"nominal","scale":{"domain":["G0-1 xer.","G2 xer."],"range":["circle","M0,-1.35L0.75,0L0,1.35L-0.75,0Z"]},"legend":null}}}
      ]}
    ]},
   {"title":{"text":"G","dx":-40,"offset":-7},
    "width":314,"height":188,
    "view":{"fill":"#6e9a98","stroke":"#222222"},
    "layer":[
     {"data":{"name":"cG"},"transform":[{"filter":"datum.id=='G42'"}],"mark":{"type":"area","color":"#82b68d"},
      "encoding":{
       "x":{"field":"x","type":"quantitative","scale":{"domain":[0.13,2.45],"nice":false,"zero":false},"axis":{"title":"GRADX [Gy/mm]","values":[0.4,0.8,1.2,1.6,2.0,2.4],"format":".1f","titlePadding":12,"labelOverlap":false,"tickCount":20}},
       "y":{"field":"y","type":"quantitative","scale":{"domain":[-6.3,6.45],"nice":false,"zero":false},"axis":{"title":"PGM [mm]","values":[-6,-4,-2,0,2,4,6],"format":"d","labelExpr":"datum.value == -2 ? '2' : datum.label","titlePadding":6,"labelOverlap":false,"tickCount":20}},
       "y2":{"datum":6.45}}},
     {"data":{"name":"cG"},"transform":[{"filter":"datum.id=='G52'"}],"mark":{"type":"area","color":"#a8cf80"},"encoding":{"x":{"field":"x","type":"quantitative"},"y":{"field":"y","type":"quantitative"},"y2":{"datum":6.45}}},
     {"data":{"name":"cG"},"transform":[{"filter":"datum.id=='G62'"}],"mark":{"type":"area","color":"#d9dd6c"},"encoding":{"x":{"field":"x","type":"quantitative"},"y":{"field":"y","type":"quantitative"},"y2":{"datum":6.45}}},
     {"data":{"name":"cG"},"transform":[{"filter":"datum.id=='G32'"}],"mark":{"type":"area","color":"#64809c"},"encoding":{"x":{"field":"x","type":"quantitative"},"y":{"field":"y","type":"quantitative"},"y2":{"datum":-6.3}}},
     {"data":{"name":"cG"},"transform":[{"filter":"datum.id=='G21'"}],"mark":{"type":"area","color":"#5d6698"},"encoding":{"x":{"field":"x","type":"quantitative"},"y":{"field":"y","type":"quantitative"},"y2":{"datum":-6.3}}},
     {"data":{"name":"cG"},"transform":[{"filter":"datum.id=='G11'"}],"mark":{"type":"area","color":"#5a4a77"},"encoding":{"x":{"field":"x","type":"quantitative"},"y":{"field":"y","type":"quantitative"},"y2":{"datum":-6.3}}},
     {"data":{"name":"cG"},"mark":{"type":"line","color":"#2a2a2a","strokeWidth":0.9,"clip":true},"encoding":{"x":{"field":"x","type":"quantitative"},"y":{"field":"y","type":"quantitative"},"detail":{"field":"id"}}},
     {"data":{"name":"lG"},"transform":[{"filter":{"field":"id","oneOf":["G62"]}}],"mark":{"type":"text","angle":12,"fontSize":12.5,"color":"#111111"},"encoding":{"x":{"field":"x","type":"quantitative"},"y":{"field":"y","type":"quantitative"},"text":{"field":"t"}}},
     {"data":{"name":"lG"},"transform":[{"filter":{"field":"id","oneOf":["G52","G42"]}}],"mark":{"type":"text","angle":28,"fontSize":12.5,"color":"#111111"},"encoding":{"x":{"field":"x","type":"quantitative"},"y":{"field":"y","type":"quantitative"},"text":{"field":"t"}}},
     {"data":{"name":"lG"},"transform":[{"filter":{"field":"id","oneOf":["G32"]}}],"mark":{"type":"text","angle":45,"fontSize":12.5,"color":"#111111"},"encoding":{"x":{"field":"x","type":"quantitative"},"y":{"field":"y","type":"quantitative"},"text":{"field":"t"}}},
     {"data":{"name":"lG"},"transform":[{"filter":{"field":"id","oneOf":["G21"]}}],"mark":{"type":"text","angle":60,"fontSize":12.5,"color":"#111111"},"encoding":{"x":{"field":"x","type":"quantitative"},"y":{"field":"y","type":"quantitative"},"text":{"field":"t"}}},
     {"data":{"name":"lG"},"transform":[{"filter":{"field":"id","oneOf":["G11"]}}],"mark":{"type":"text","angle":345,"fontSize":12.5,"color":"#111111"},"encoding":{"x":{"field":"x","type":"quantitative"},"y":{"field":"y","type":"quantitative"},"text":{"field":"t"}}},
     {"data":{"name":"gxx"},"mark":{"type":"rule","color":"#000000","strokeWidth":2},"encoding":{"x":{"field":"x","type":"quantitative"},"y":{"datum":-6.3},"y2":{"datum":-5.66}}},
     {"data":{"name":"pgmy"},"mark":{"type":"rule","color":"#000000","strokeWidth":2},"encoding":{"y":{"field":"y","type":"quantitative"},"x":{"datum":0.13},"x2":{"datum":0.246}}},
     {"data":{"name":"pG"},"mark":{"type":"point","size":34,"strokeWidth":1.3,"fillOpacity":0.6,"clip":true},
      "encoding":{
       "x":{"field":"x","type":"quantitative"},"y":{"field":"y","type":"quantitative"},
       "fill":{"field":"g","type":"nominal","scale":{"domain":["G0-1 xer.","G2 xer."],"range":["#4d5aa8","#f2998a"]},"legend":{"orient":"none","legendX":403,"legendY":-15,"direction":"horizontal","title":null,"labelFontSize":13,"labelColor":"#111111","symbolSize":40,"columnPadding":12,"labelOffset":8}},
       "stroke":{"field":"g","type":"nominal","scale":{"domain":["G0-1 xer.","G2 xer."],"range":["#262b80","#d41c1c"]},"legend":{"orient":"none","legendX":403,"legendY":-15,"direction":"horizontal","title":null,"labelFontSize":13,"labelColor":"#111111","symbolSize":40,"columnPadding":12,"labelOffset":8}},
       "shape":{"field":"g","type":"nominal","scale":{"domain":["G0-1 xer.","G2 xer."],"range":["circle","M0,-1.35L0.75,0L0,1.35L-0.75,0Z"]},"legend":{"orient":"none","legendX":403,"legendY":-15,"direction":"horizontal","title":null,"labelFontSize":13,"labelColor":"#111111","symbolSize":40,"columnPadding":12,"labelOffset":8}}}}
    ]}
  ]}
]
}
